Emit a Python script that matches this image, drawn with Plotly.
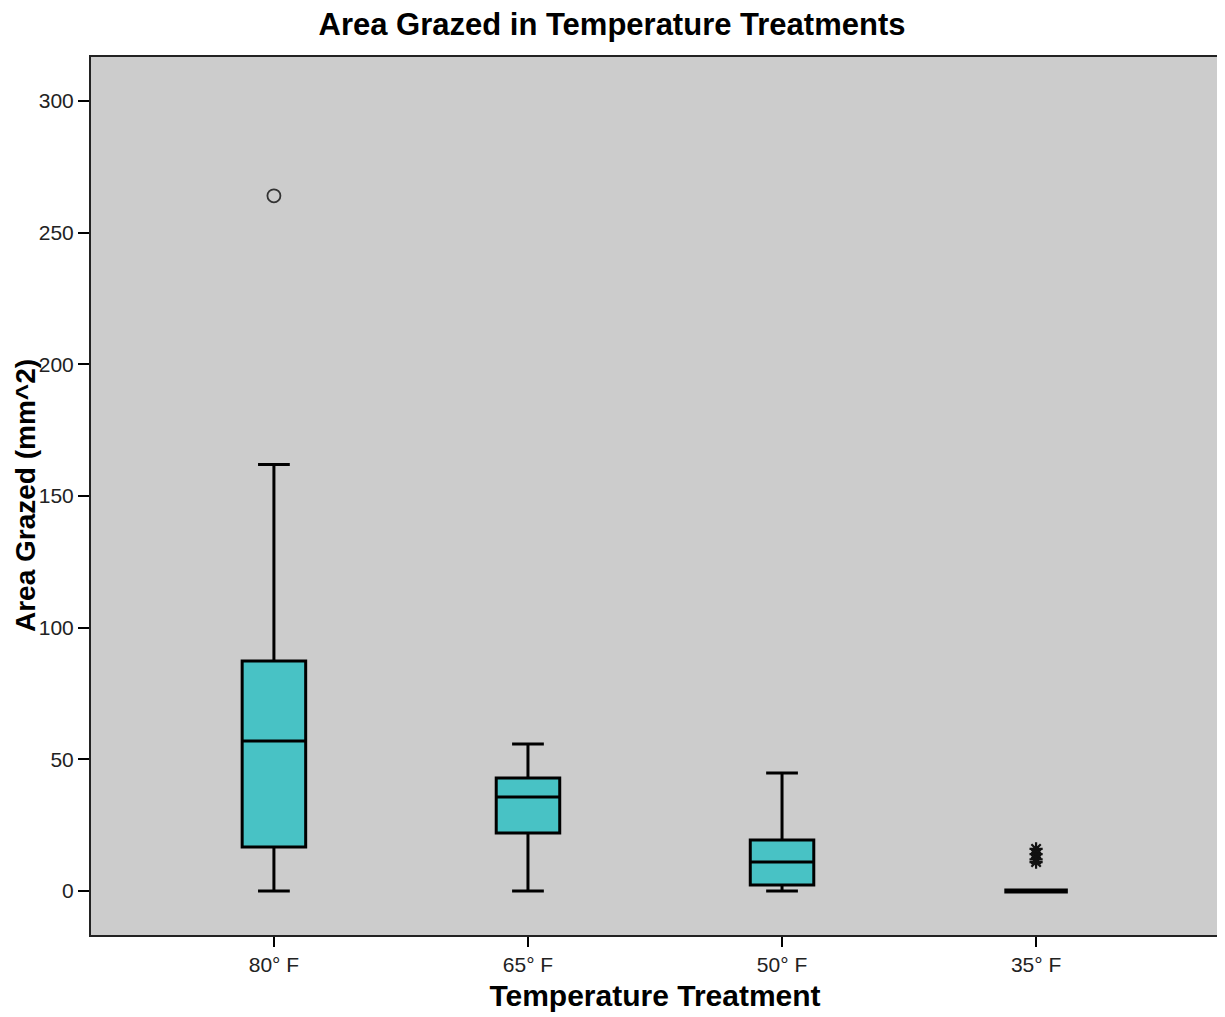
import plotly.graph_objects as go

categories = ["80° F", "65° F", "50° F", "35° F"]
q1 = [16.7, 22.0, 2.3, 0.0]
median = [57.0, 35.7, 11.0, 0.0]
q3 = [87.3, 42.9, 19.4, 0.0]
lower = [0.0, 0.0, 0.0, 0.0]
upper = [162.0, 55.8, 44.8, 0.0]

outlier_cat = ["80° F"]
outlier_val = [264.0]
extreme_cat = ["35° F", "35° F", "35° F", "35° F"]
extreme_val = [16.0, 14.0, 12.0, 11.0]

W, H = 1217, 1009

fig = go.Figure()
fig.add_trace(go.Box(
    x=categories[:3], q1=q1[:3], median=median[:3], q3=q3[:3],
    lowerfence=lower[:3], upperfence=upper[:3],
    fillcolor="#48C2C5", line=dict(color="black", width=3),
    whiskerwidth=0.5, width=0.25, boxpoints=False, showlegend=False,
))
fig.add_trace(go.Box(
    x=categories[3:], q1=q1[3:], median=median[3:], q3=q3[3:],
    lowerfence=lower[3:], upperfence=upper[3:],
    fillcolor="#48C2C5", line=dict(color="black", width=5),
    whiskerwidth=0.5, width=0.25, boxpoints=False, showlegend=False,
))
fig.add_trace(go.Scatter(
    x=outlier_cat, y=outlier_val, mode="markers",
    marker=dict(symbol="circle-open", size=13, color="#333333", line=dict(width=1.8)),
    showlegend=False,
))
fig.add_trace(go.Scatter(
    x=extreme_cat, y=extreme_val, mode="markers",
    marker=dict(symbol="asterisk-open", size=11, color="#111111", line=dict(width=2.2, color="#111111")),
    showlegend=False,
))

fig.update_layout(
    width=W, height=H,
    paper_bgcolor="white", plot_bgcolor="#CCCCCC",
    margin=dict(l=83, r=6, t=49, b=82, autoexpand=False),
    font=dict(family="Liberation Sans, Arial, sans-serif", color="#222222"),
    title=dict(text="<b>Area Grazed in Temperature Treatments</b>", x=(612 - 8) / W, xanchor="center",
               y=1 - 16 / H, yanchor="middle", automargin=False,
               font=dict(size=31, color="black")),
    xaxis=dict(
        type="category", categoryorder="array", categoryarray=categories,
        range=[-0.72, 3.72], showgrid=False, zeroline=False, automargin=False,
        ticks="outside", ticklen=10, tickwidth=2, tickcolor="black",
        tickfont=dict(size=21), mirror=True, showline=True, linecolor="#222222", linewidth=2,
        title=dict(text="<b>Temperature Treatment</b>", font=dict(size=30, color="black"), standoff=10),
    ),
    yaxis=dict(
        range=[-16.7, 316.7], tickvals=[0, 50, 100, 150, 200, 250, 300],
        showgrid=False, zeroline=False, automargin=False,
        ticks="outside", ticklen=11, tickwidth=2, tickcolor="black",
        tickfont=dict(size=21), mirror=True, showline=True, linecolor="#222222", linewidth=2,
    ),
    annotations=[dict(
        text="<b>Area Grazed (mm^2)</b>", textangle=-90, showarrow=False,
        xref="paper", yref="paper", x=(17 - 83) / 1128, y=0.5,
        xanchor="center", yanchor="middle", font=dict(size=28, color="black"),
    )],
)

fig.write_html("out.html")
